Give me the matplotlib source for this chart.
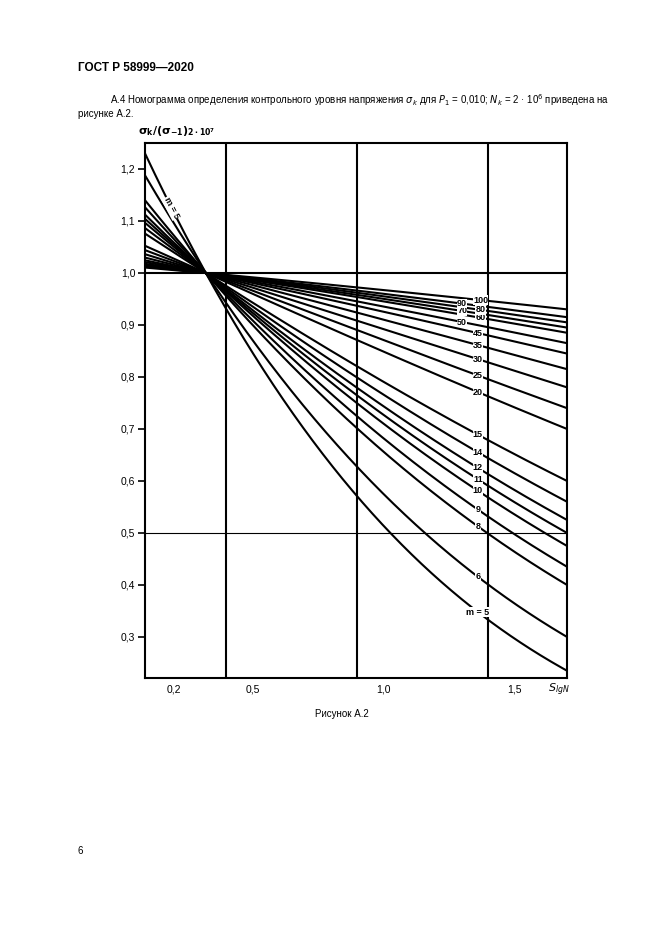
import numpy as np
import matplotlib
matplotlib.use("Agg")
import matplotlib.pyplot as plt

plt.rcParams['font.family'] = ['Liberation Sans', 'DejaVu Sans']

m_values = [5, 6, 8, 9, 10, 11, 12, 14, 15, 20, 25, 30, 35, 40, 50, 60, 70, 80, 90, 100]
m_labels = ["m = 5", "6", "8", "9", "10", "11", "12", "14", "15", "20", "25", "30", "35", "45", "50", "60", "70", "80", "90", "100"]
# value of each curve at the right edge (S = 1.70)
end_values = [0.235, 0.30, 0.40, 0.435, 0.475, 0.50, 0.525, 0.56, 0.60, 0.70, 0.74, 0.78,
              0.815, 0.845, 0.865, 0.885, 0.895, 0.905, 0.915, 0.93]
label_x = [1.36, 1.36, 1.36, 1.36, 1.36, 1.36, 1.36, 1.36, 1.36, 1.36, 1.36, 1.36,
           1.36, 1.36, 1.30, 1.37, 1.30, 1.37, 1.30, 1.37]
# common shape of the nomogram curves (all pass through S0, 1.0)
S0 = 0.322
c1, c2 = 4.26, 0.493
xtick_vals = [0.2, 0.5, 1.0, 1.5]
xtick_labels = ["0,2", "0,5", "1,0", "1,5"]
ytick_vals = [0.3, 0.4, 0.5, 0.6, 0.7, 0.8, 0.9, 1.0, 1.1, 1.2]
vlines = [0.4, 0.9, 1.4]

fig = plt.figure(figsize=(6.61, 9.35), dpi=100)
ax = fig.add_axes([145/661, (935-678)/935, 422/661, 535/935])
xmin, xmax = 0.09, 1.70
ax.set_xlim(xmin, xmax)
ax.set_ylim(0.221, 1.25)

def shape(s):
    return c1*(s-S0) + c2*(s**2-S0**2)

S = np.linspace(xmin, xmax, 300)
for m, ev, lab, lx in zip(m_values, end_values, m_labels, label_x):
    k = -np.log(ev) / shape(xmax)
    y = np.exp(-k*shape(S))
    ax.plot(S, y, color='black', lw=1.5, solid_capstyle='butt', zorder=2)
    yl = np.exp(-k*shape(lx))
    ax.text(lx, yl, lab, fontsize=6.5, fontweight='bold', ha='center', va='center',
            bbox=dict(fc='white', ec='none', pad=0.2), zorder=3)
ax.text(0.19, 1.125, "m = 5", fontsize=6.5, fontweight='bold', rotation=-62,
        ha='center', va='center', bbox=dict(fc='white', ec='none', pad=0.3), zorder=3)

for v in vlines:
    ax.axvline(v, color='black', lw=1.5, zorder=1)
ax.axhline(1.0, color='black', lw=1.5, zorder=1)
ax.axhline(0.5, color='black', lw=0.8, zorder=1)

for s in ax.spines.values():
    s.set_linewidth(1.5)
ax.set_yticks(ytick_vals)
ax.set_yticklabels([f"{v:.1f}".replace('.', ',') for v in ytick_vals], fontsize=7.5)
ax.tick_params(axis='y', direction='out', length=5, width=1.2, pad=2)
ax.set_xticks(xtick_vals)
ax.set_xticklabels(xtick_labels, fontsize=7.5)
ax.tick_params(axis='x', length=0, pad=5)

fig.text(138/661, 1-131/935, r"$\mathbf{\sigma_k/(\sigma_{-1})_{2\cdot10^7}}$", fontsize=8, ha='left', va='center')
fig.text(548/661, 1-690/935, r"$S_{lgN}$", fontsize=8, ha='left', va='center')
fig.text(78/661, 1-68/935, "ГОСТ Р 58999—2020", fontsize=8.5, fontweight='bold', ha='left', va='center')
fig.text(110/661, 1-100/935, "А.4 Номограмма определения контрольного уровня напряжения $\\sigma_k$ для $P_1$ = 0,010; $N_k$ = 2 · 10$^6$ приведена на",
         fontsize=7, ha='left', va='center')
fig.text(78/661, 1-114/935, "рисунке А.2.", fontsize=7, ha='left', va='center')
fig.text(342/661, 1-714/935, "Рисунок А.2", fontsize=7, ha='center', va='center')
fig.text(78/661, 1-851/935, "6", fontsize=7, ha='left', va='center')

fig.savefig("out.png", dpi=100)
